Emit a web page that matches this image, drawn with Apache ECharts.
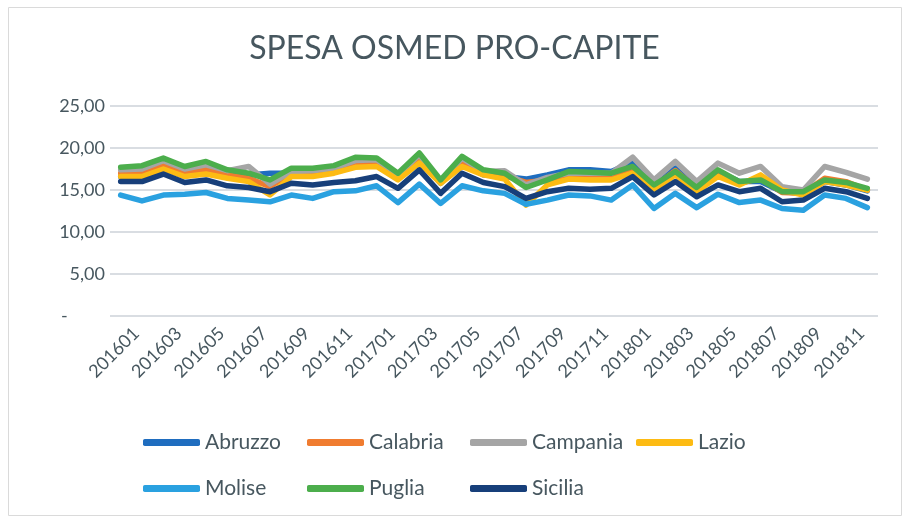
<!DOCTYPE html>
<html>
<head>
<meta charset="utf-8">
<script src="https://cdn.jsdelivr.net/npm/echarts@6/dist/echarts.min.js"></script>
<style>html,body{margin:0;padding:0;background:#fff}#c{width:909px;height:520px}</style>
</head>
<body>
<div id="c"></div>
<script>
const categories = ['201601','201602','201603','201604','201605','201606','201607','201608','201609','201610','201611','201612',
  '201701','201702','201703','201704','201705','201706','201707','201708','201709','201710','201711','201712',
  '201801','201802','201803','201804','201805','201806','201807','201808','201809','201810','201811','201812'];
const yTicks = [0, 5, 10, 15, 20, 25];
const abruzzo  = [16.6,16.7,17.6,16.8,17.2,16.7,16.8,17.0,17.0,17.0,17.3,17.8,18.0,16.5,18.6,15.8,18.2,16.8,16.6,16.3,16.8,17.4,17.4,17.2,18.3,15.4,17.6,15.2,17.2,16.0,16.0,14.8,14.6,16.0,15.6,14.9];
const calabria = [17.0,17.1,18.0,17.0,17.5,16.8,16.4,15.4,17.0,17.0,17.4,18.2,18.2,16.6,18.8,16.0,18.4,17.0,16.7,15.9,16.2,16.8,16.8,16.8,17.6,15.4,17.3,15.2,17.0,15.8,16.4,14.7,14.6,16.4,16.0,15.0];
const campania = [17.4,17.5,18.5,17.5,18.0,17.3,17.8,15.7,17.2,17.3,17.6,18.5,18.6,16.8,19.2,16.0,18.8,17.2,17.3,15.6,16.5,17.0,17.0,17.0,18.9,16.2,18.4,16.0,18.2,17.0,17.8,15.4,15.0,17.8,17.1,16.3];
const lazio    = [16.6,16.6,17.5,16.6,16.9,16.4,16.0,14.4,16.6,16.6,17.0,17.7,17.8,16.2,18.2,15.8,17.8,16.8,16.3,13.2,15.6,16.3,16.2,16.2,17.0,15.0,16.8,14.8,16.6,15.6,16.8,15.0,14.4,16.0,15.6,15.0];
const molise   = [14.4,13.7,14.4,14.5,14.7,14.0,13.8,13.6,14.4,14.0,14.8,14.9,15.5,13.5,15.7,13.4,15.5,14.9,14.6,13.3,13.8,14.4,14.3,13.8,15.6,12.8,14.6,12.9,14.5,13.5,13.8,12.8,12.6,14.4,14.0,12.9];
const puglia   = [17.7,17.9,18.8,17.8,18.4,17.4,17.0,16.2,17.6,17.6,17.9,18.9,18.8,17.0,19.4,16.2,19.0,17.4,17.0,15.3,16.2,17.2,17.1,17.0,17.8,15.6,17.2,15.3,17.4,16.0,16.2,14.8,14.8,16.2,15.9,15.2];
const sicilia  = [16.0,16.0,16.9,15.9,16.2,15.5,15.3,14.8,15.8,15.6,15.9,16.1,16.6,15.2,17.4,14.6,17.0,15.9,15.4,14.0,14.8,15.2,15.1,15.2,16.6,14.4,16.0,14.2,15.6,14.8,15.2,13.6,13.8,15.2,14.8,14.0];

const names  = ['Abruzzo','Calabria','Campania','Lazio','Molise','Puglia','Sicilia'];
const values = [abruzzo, calabria, campania, lazio, molise, puglia, sicilia];
const colors = ['#1f6dbf','#f07c30','#a5a5a5','#fdbb13','#2aa1e0','#4cae4c','#173f7a'];
const txt = '#47575f';
const font = 'Lato, "Open Sans", sans-serif';

const legendPos = [[143,432],[307,432],[470,432],[636,432],[143,478],[307,478],[470,478]];

const chart = echarts.init(document.getElementById('c'), null, {renderer: 'canvas'});
chart.setOption({
  animation: false,
  backgroundColor: '#fff',
  color: colors,
  title: {
    text: 'SPESA OSMED PRO-CAPITE',
    left: 'center',
    top: 28,
    textStyle: {fontFamily: font, fontSize: 32, fontWeight: 'normal', color: txt}
  },
  graphic: [{
    type: 'rect', silent: true,
    shape: {x: 8.5, y: 7.5, width: 893, height: 508},
    style: {fill: 'none', stroke: '#dadada', lineWidth: 1}
  }],
  legend: names.map((n, i) => ({
    data: [n],
    left: legendPos[i][0],
    top: legendPos[i][1],
    icon: 'roundRect',
    itemWidth: 57,
    itemHeight: 7,
    padding: 0,
    selectedMode: false,
    textStyle: {fontFamily: font, fontSize: 21, color: txt}
  })),
  grid: {left: 110, right: 31, top: 106, bottom: 204, containLabel: false},
  xAxis: {
    type: 'category',
    data: categories,
    boundaryGap: true,
    axisLine: {show: false},
    axisTick: {show: false},
    axisLabel: {
      interval: 1,
      rotate: 45,
      margin: 30,
      padding: [0, -22, 0, 0],
      fontFamily: font,
      fontSize: 18,
      color: txt
    }
  },
  yAxis: {
    type: 'value',
    min: yTicks[0],
    max: yTicks[yTicks.length - 1],
    interval: yTicks[1] - yTicks[0],
    axisLine: {show: false},
    axisTick: {show: false},
    splitLine: {lineStyle: {color: '#d9dde2', width: 2}},
    axisLabel: {
      margin: 5,
      fontFamily: font,
      fontSize: 18,
      color: txt,
      formatter: v => v === 0 ? '{d|-}' : v.toFixed(2).replace('.', ','),
      rich: {d: {width: 44, align: 'left', fontFamily: font, fontSize: 18, color: txt}}
    }
  },
  series: names.map((n, i) => ({
    name: n,
    type: 'line',
    data: values[i],
    symbol: 'none',
    smooth: false,
    lineStyle: {width: 5.5, cap: 'round', join: 'round', color: colors[i]},
    itemStyle: {color: colors[i]},
    emphasis: {disabled: true}
  }))
});
</script>
</body>
</html>
